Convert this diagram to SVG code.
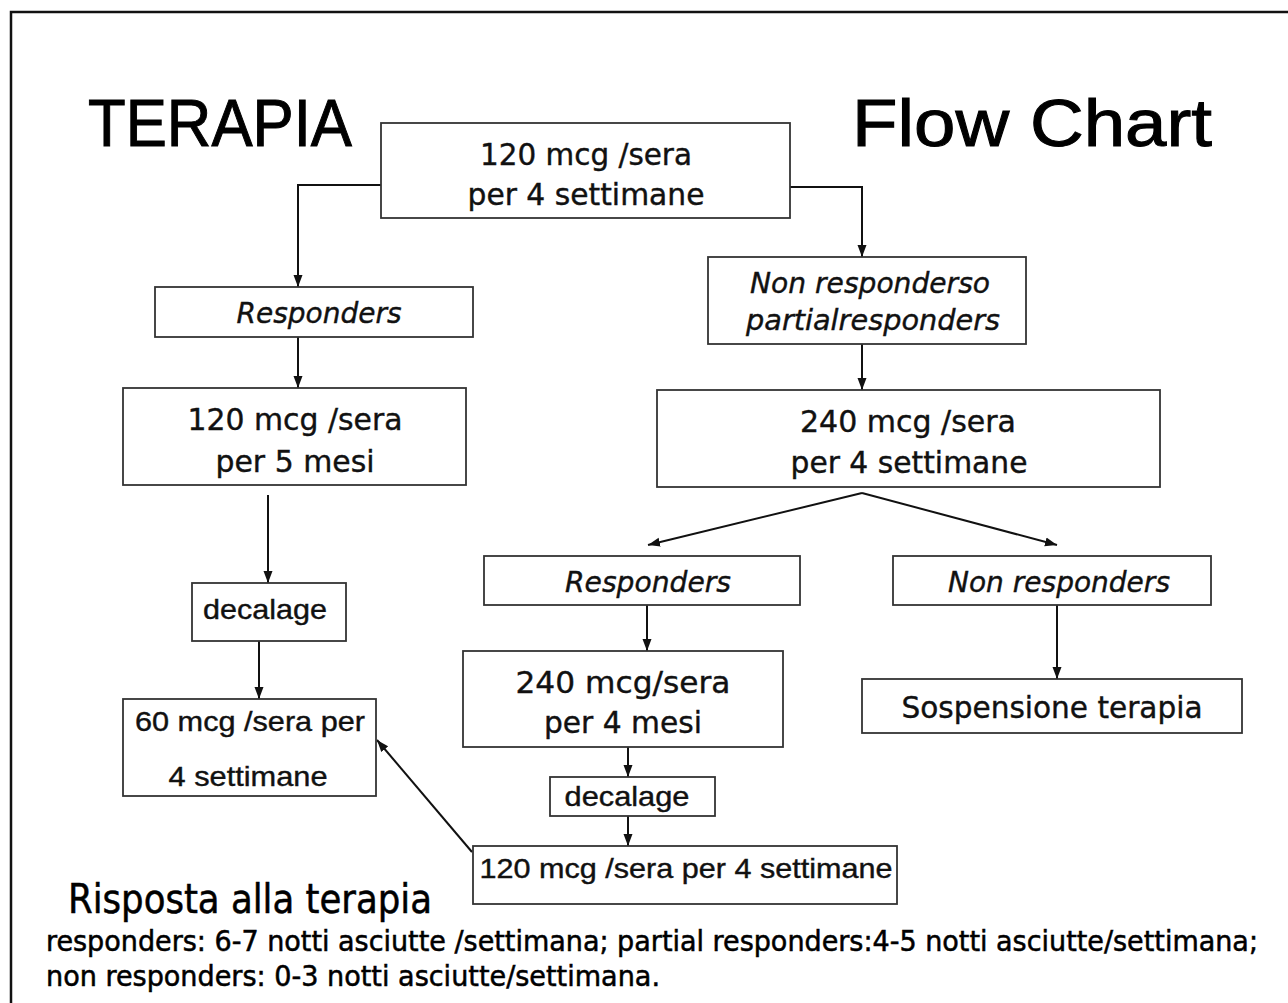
<svg xmlns="http://www.w3.org/2000/svg" width="1288" height="1003" viewBox="0 0 1288 1003">
<defs>
<marker id="ah" viewBox="0 0 12 10" refX="12" refY="5" markerWidth="12" markerHeight="10" markerUnits="userSpaceOnUse" orient="auto">
<path d="M0,0.5 L12,5 L0,9.5 z" fill="#111"/>
</marker>
<style>
.box{fill:#fff;stroke:#333;stroke-width:1.8}
.v{font-family:"DejaVu Sans",Verdana,sans-serif;font-size:30px;fill:#111;stroke:#111;stroke-width:0.4;text-anchor:middle}
.vi{font-family:"DejaVu Sans",Verdana,sans-serif;font-style:italic;font-size:28px;fill:#111;stroke:#111;stroke-width:0.4;text-anchor:middle}
.a{font-family:"Liberation Sans",Arial,sans-serif;font-size:28px;fill:#111;stroke:#111;stroke-width:0.4;text-anchor:middle}
.t{font-family:"Liberation Sans",Arial,sans-serif;font-size:66px;fill:#000;stroke:#000;stroke-width:1}
.c{font-family:"DejaVu Sans Condensed","DejaVu Sans",sans-serif;fill:#000;stroke:#000;stroke-width:0.5}
.ln{fill:none;stroke:#111;stroke-width:2}
</style>
</defs>
<rect x="0" y="0" width="1288" height="1003" fill="#fff"/>
<path d="M11,1003 L11,12 L1288,12" fill="none" stroke="#111" stroke-width="2.5"/>
<g id="title">
<text class="t" x="88" y="146" textLength="264" lengthAdjust="spacingAndGlyphs">TERAPIA</text>
<text class="t" x="852" y="146" textLength="360" lengthAdjust="spacingAndGlyphs">Flow Chart</text>
</g>
<g id="connectors">
<path class="ln" d="M381,185 L298,185 L298,287" marker-end="url(#ah)"/>
<path class="ln" d="M790,187 L862,187 L862,257" marker-end="url(#ah)"/>
<path class="ln" d="M298,337 L298,388" marker-end="url(#ah)"/>
<path class="ln" d="M268,495 L268,583" marker-end="url(#ah)"/>
<path class="ln" d="M259,641 L259,699" marker-end="url(#ah)"/>
<path class="ln" d="M472,852 L377,740" marker-end="url(#ah)"/>
<path class="ln" d="M862,344 L862,390" marker-end="url(#ah)"/>
<path class="ln" d="M862,493 L648,545" marker-end="url(#ah)"/>
<path class="ln" d="M862,493 L1057,545" marker-end="url(#ah)"/>
<path class="ln" d="M647,596 L647,651" marker-end="url(#ah)"/>
<path class="ln" d="M628,747 L628,777" marker-end="url(#ah)"/>
<path class="ln" d="M628,816 L628,846" marker-end="url(#ah)"/>
<path class="ln" d="M1057,605 L1057,679" marker-end="url(#ah)"/>
</g>
<g id="n1">
<rect class="box" x="381" y="123" width="409" height="95"/>
<text class="v" x="586" y="165" textLength="212" lengthAdjust="spacingAndGlyphs">120 mcg /sera</text>
<text class="v" x="586" y="205" textLength="237" lengthAdjust="spacingAndGlyphs">per 4 settimane</text>
</g>
<g id="n2">
<rect class="box" x="155" y="287" width="318" height="50"/>
<text class="vi" x="319" y="323" textLength="165" lengthAdjust="spacingAndGlyphs">Responders</text>
</g>
<g id="n3">
<rect class="box" x="123" y="388" width="343" height="97"/>
<text class="v" x="295" y="430" textLength="215" lengthAdjust="spacingAndGlyphs">120 mcg /sera</text>
<text class="v" x="295" y="472" textLength="159" lengthAdjust="spacingAndGlyphs">per 5 mesi</text>
</g>
<g id="n4">
<rect class="box" x="192" y="583" width="154" height="58"/>
<text class="a" x="265" y="619" textLength="124" lengthAdjust="spacingAndGlyphs">decalage</text>
</g>
<g id="n5">
<rect class="box" x="123" y="699" width="253" height="97"/>
<text class="a" x="250" y="731" textLength="230" lengthAdjust="spacingAndGlyphs">60 mcg /sera per</text>
<text class="a" x="248" y="786" textLength="159" lengthAdjust="spacingAndGlyphs">4 settimane</text>
</g>
<g id="n6">
<rect class="box" x="708" y="257" width="318" height="87"/>
<text class="vi" x="870" y="293" textLength="240" lengthAdjust="spacingAndGlyphs">Non responderso</text>
<text class="vi" x="873" y="330" textLength="254" lengthAdjust="spacingAndGlyphs">partialresponders</text>
</g>
<g id="n7">
<rect class="box" x="657" y="390" width="503" height="97"/>
<text class="v" x="908" y="432" textLength="216" lengthAdjust="spacingAndGlyphs">240 mcg /sera</text>
<text class="v" x="909" y="473" textLength="237" lengthAdjust="spacingAndGlyphs">per 4 settimane</text>
</g>
<g id="n8">
<rect class="box" x="484" y="556" width="316" height="49"/>
<text class="vi" x="648" y="592" textLength="166" lengthAdjust="spacingAndGlyphs">Responders</text>
</g>
<g id="n9">
<rect class="box" x="893" y="556" width="318" height="49"/>
<text class="vi" x="1059" y="592" textLength="222" lengthAdjust="spacingAndGlyphs">Non responders</text>
</g>
<g id="n10">
<rect class="box" x="463" y="651" width="320" height="96"/>
<text class="v" x="623" y="693" textLength="215" lengthAdjust="spacingAndGlyphs">240  mcg/sera</text>
<text class="v" x="623" y="733" textLength="158" lengthAdjust="spacingAndGlyphs">per 4 mesi</text>
</g>
<g id="n11">
<rect class="box" x="550" y="777" width="165" height="39"/>
<text class="a" x="627" y="806" textLength="125" lengthAdjust="spacingAndGlyphs">decalage</text>
</g>
<g id="n12">
<rect class="box" x="473" y="846" width="424" height="58"/>
<text class="a" x="686" y="878" textLength="413" lengthAdjust="spacingAndGlyphs">120 mcg /sera per 4 settimane</text>
</g>
<g id="n13">
<rect class="box" x="862" y="679" width="380" height="54"/>
<text class="v" x="1052" y="718" textLength="301" lengthAdjust="spacingAndGlyphs">Sospensione terapia</text>
</g>
<g id="legend">
<text class="c" x="68" y="913" font-size="40" textLength="364" lengthAdjust="spacingAndGlyphs">Risposta alla terapia</text>
<text class="c" x="46" y="951" font-size="29" textLength="1212" lengthAdjust="spacingAndGlyphs">responders: 6-7 notti asciutte /settimana; partial responders:4-5 notti asciutte/settimana;</text>
<text class="c" x="46" y="986" font-size="29" textLength="614" lengthAdjust="spacingAndGlyphs">non responders: 0-3 notti asciutte/settimana.</text>
</g>
</svg>
